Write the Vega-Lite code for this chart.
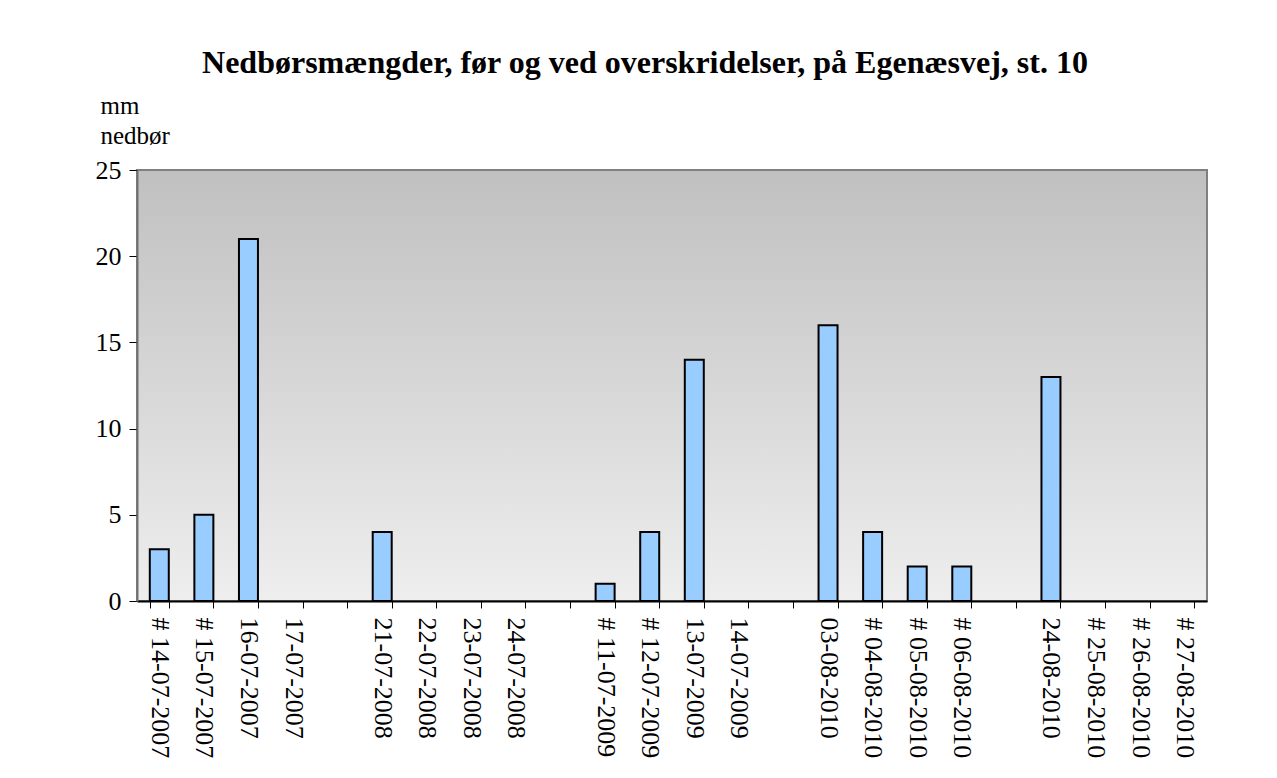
{
  "$schema": "https://vega.github.io/schema/vega-lite/v6.json",
  "width": 1070,
  "height": 431,
  "autosize": {"type": "none"},
  "padding": {"left": 137, "top": 170, "right": 70, "bottom": 177},
  "background": "white",
  "title": {
    "text": "Nedbørsmængder, før og ved overskridelser, på Egenæsvej, st. 10",
    "font": "Liberation Serif",
    "fontSize": 32,
    "fontWeight": "bold",
    "color": "black",
    "anchor": "middle",
    "frame": "group",
    "dx": -27,
    "offset": 13
  },
  "data": {
    "values": [
      {"date": "# 14-07-2007", "mm": 3},
      {"date": "# 15-07-2007", "mm": 5},
      {"date": "16-07-2007", "mm": 21},
      {"date": "17-07-2007", "mm": 0},
      {"date": "21-07-2008", "mm": 4},
      {"date": "22-07-2008", "mm": 0},
      {"date": "23-07-2008", "mm": 0},
      {"date": "24-07-2008", "mm": 0},
      {"date": "# 11-07-2009", "mm": 1},
      {"date": "# 12-07-2009", "mm": 4},
      {"date": "13-07-2009", "mm": 14},
      {"date": "14-07-2009", "mm": 0},
      {"date": "03-08-2010", "mm": 16},
      {"date": "# 04-08-2010", "mm": 4},
      {"date": "# 05-08-2010", "mm": 2},
      {"date": "# 06-08-2010", "mm": 2},
      {"date": "24-08-2010", "mm": 13},
      {"date": "# 25-08-2010", "mm": 0},
      {"date": "# 26-08-2010", "mm": 0},
      {"date": "# 27-08-2010", "mm": 0}
    ]
  },
  "mark": {"type": "bar", "fill": "#99ccff", "stroke": "black", "strokeWidth": 2},
  "encoding": {
    "x": {
      "field": "date",
      "type": "nominal",
      "sort": null,
      "scale": {
        "domain": ["# 14-07-2007", "# 15-07-2007", "16-07-2007", "17-07-2007", " ",
                   "21-07-2008", "22-07-2008", "23-07-2008", "24-07-2008", "  ",
                   "# 11-07-2009", "# 12-07-2009", "13-07-2009", "14-07-2009", "   ",
                   "03-08-2010", "# 04-08-2010", "# 05-08-2010", "# 06-08-2010", "    ",
                   "24-08-2010", "# 25-08-2010", "# 26-08-2010", "# 27-08-2010"],
        "paddingInner": 0.574,
        "paddingOuter": 0.287
      },
      "axis": {
        "title": null,
        "labelAngle": 90,
        "labelAlign": "left",
        "labelBaseline": "middle",
        "labelFont": "Liberation Serif",
        "labelFontSize": 26,
        "labelColor": "black",
        "labelPadding": 9,
        "labelOverlap": false,
        "labelLimit": 0,
        "tickBand": "extent",
        "tickSize": 7,
        "tickColor": "black",
        "tickWidth": 1,
        "domainColor": "black",
        "domainWidth": 2,
        "grid": false
      }
    },
    "y": {
      "field": "mm",
      "type": "quantitative",
      "scale": {"domain": [0, 25], "nice": false},
      "axis": {
        "title": ["mm", "nedbør"],
        "titleAngle": 0,
        "titleAlign": "left",
        "titleBaseline": "alphabetic",
        "titleX": -37,
        "titleY": -57,
        "titleFont": "Liberation Serif",
        "titleFontSize": 25,
        "titleFontWeight": "normal",
        "titleColor": "black",
        "titleLineHeight": 30,
        "values": [0, 5, 10, 15, 20, 25],
        "labelFont": "Liberation Serif",
        "labelFontSize": 26,
        "labelColor": "black",
        "labelPadding": 8,
        "tickSize": 8,
        "tickColor": "black",
        "tickWidth": 1,
        "domainColor": "#707070",
        "domainWidth": 2,
        "grid": false
      }
    },
    "strokeOpacity": {
      "condition": {"test": "datum.mm == 0", "value": 0},
      "value": 1
    }
  },
  "config": {
    "view": {
      "fill": {
        "gradient": "linear",
        "x1": 0, "y1": 0, "x2": 0, "y2": 1,
        "stops": [
          {"offset": 0, "color": "#c0c0c0"},
          {"offset": 1, "color": "#eeeeee"}
        ]
      },
      "stroke": "#808080",
      "strokeWidth": 2
    }
  }
}
